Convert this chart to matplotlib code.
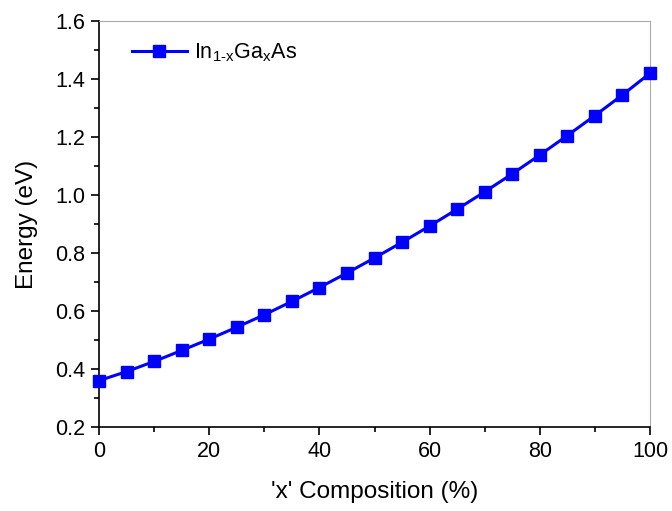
import numpy as np
import matplotlib
matplotlib.use('Agg')
import matplotlib.pyplot as plt
from matplotlib.ticker import MultipleLocator

plt.rcParams['font.family'] = ['Liberation Sans', 'DejaVu Sans']
plt.rcParams['mathtext.fontset'] = 'custom'
plt.rcParams['mathtext.rm'] = 'Liberation Sans'
plt.rcParams['mathtext.it'] = 'Liberation Sans'

# Data
composition = [0, 5, 10, 15, 20, 25, 30, 35, 40, 45, 50,
               55, 60, 65, 70, 75, 80, 85, 90, 95, 100]
energy = [0.360, 0.391, 0.426, 0.464, 0.503, 0.544, 0.587, 0.633, 0.681, 0.731, 0.783,
          0.837, 0.893, 0.951, 1.011, 1.073, 1.138, 1.205, 1.274, 1.345, 1.420]

fig = plt.figure(figsize=(6.72, 5.11), dpi=100)
ax = fig.add_axes([99/672, 1 - 427/511, 551/672, 406/511])

ax.plot(composition, energy, '-s', color='#0000ff', lw=2.2, ms=9,
        label=r'In$_{\text{1-x}}$Ga$_{\text{x}}$As', clip_on=False, zorder=3)

ax.set_xlim(0, 100)
ax.set_ylim(0.2, 1.6)
ax.xaxis.set_major_locator(MultipleLocator(20))
ax.xaxis.set_minor_locator(MultipleLocator(10))
ax.yaxis.set_major_locator(MultipleLocator(0.2))
ax.yaxis.set_minor_locator(MultipleLocator(0.1))
ax.yaxis.set_major_formatter(plt.FormatStrFormatter('%.1f'))

ax.tick_params(which='both', direction='out', top=False, right=False, labelsize=15.5, width=1.2)
ax.tick_params(which='major', length=6, pad=4)
ax.tick_params(which='minor', length=3.5)
for s in ['top', 'right']:
    ax.spines[s].set_color('#aaaaaa')
for s in ['left', 'bottom']:
    ax.spines[s].set_linewidth(1.2)

ax.set_xlabel("'x' Composition (%)", fontsize=17.5, labelpad=14)
ax.set_ylabel('Energy (eV)', fontsize=17.5, labelpad=12)

ax.legend(loc='center left', bbox_to_anchor=(24/551, 1 - 32/406), frameon=False,
          fontsize=15.5, handlelength=2.55, handletextpad=0.35, borderaxespad=0)

fig.savefig('out.png', dpi=100)
